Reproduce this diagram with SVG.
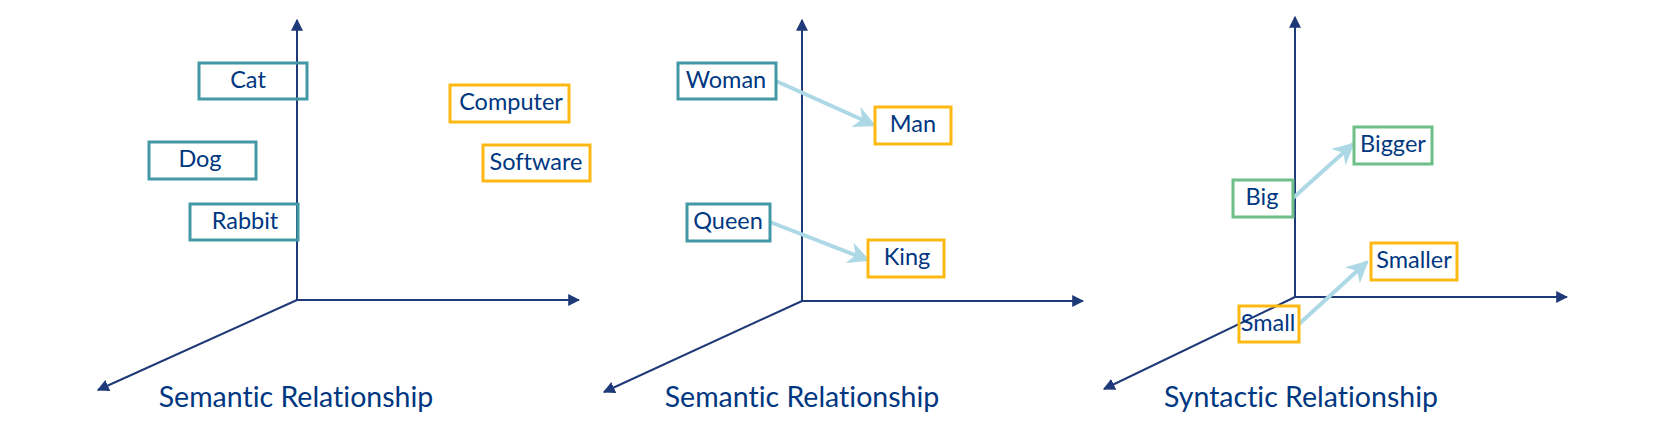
<svg xmlns="http://www.w3.org/2000/svg" width="1680" height="433" viewBox="0 0 1680 433">
<defs>
<marker id="axisHead" viewBox="0 0 10 10" refX="9" refY="5" markerWidth="6" markerHeight="6" markerUnits="strokeWidth" orient="auto">
<path d="M0,0 L10,5 L0,10 Z" fill="#1f3a78"/>
</marker>
<marker id="relHead" viewBox="0 0 10 10" refX="9" refY="5" markerWidth="5.5" markerHeight="5.5" markerUnits="strokeWidth" orient="auto">
<path d="M0,0 L10,5 L0,10 L3,5 Z" fill="#add8e6"/>
</marker>
<style>
.axis{stroke:#1f3a78;stroke-width:2;fill:none;marker-end:url(#axisHead)}
.rel{stroke:#add8e6;stroke-width:4;fill:none;marker-end:url(#relHead)}
.box{fill:none;stroke-width:3}
.teal{stroke:#4298a4}
.yellow{stroke:#fdb913}
.green{stroke:#6dbf87}
.lbl{font-family:Lato,"Open Sans","Liberation Sans",sans-serif;font-size:23.5px;fill:#003781;text-anchor:middle;font-variant-ligatures:none}
.title{font-family:Lato,"Open Sans","Liberation Sans",sans-serif;font-size:28.5px;fill:#003781;text-anchor:middle;font-variant-ligatures:none}
</style>
</defs>
<rect width="1680" height="433" fill="#ffffff"/>
<g id="connectors">
<line class="axis" x1="297" y1="300" x2="297" y2="20"/>
<line class="axis" x1="297" y1="300" x2="579" y2="300"/>
<line class="axis" x1="297" y1="300" x2="98" y2="390"/>
<line class="axis" x1="802" y1="301" x2="802" y2="20"/>
<line class="axis" x1="802" y1="301" x2="1083" y2="301"/>
<line class="axis" x1="802" y1="301" x2="604" y2="392"/>
<line class="axis" x1="1295" y1="297" x2="1295" y2="17"/>
<line class="axis" x1="1295" y1="297" x2="1567" y2="297"/>
<line class="axis" x1="1295" y1="297" x2="1104" y2="389"/>
<line class="rel" x1="776" y1="81" x2="874" y2="125"/>
<line class="rel" x1="770" y1="222" x2="868" y2="260"/>
<line class="rel" x1="1293" y1="198" x2="1353" y2="144"/>
<line class="rel" x1="1299" y1="324" x2="1367" y2="262"/>
</g>
<g id="node-cat"><rect class="box teal" x="199" y="63" width="108" height="36"/><text class="lbl" x="248" y="88">Cat</text></g>
<g id="node-dog"><rect class="box teal" x="149" y="142" width="107" height="37"/><text class="lbl" x="200" y="167">Dog</text></g>
<g id="node-rabbit"><rect class="box teal" x="190" y="204" width="108" height="36"/><text class="lbl" x="245" y="229">Rabbit</text></g>
<g id="node-computer"><rect class="box yellow" x="450" y="85" width="119" height="37"/><text class="lbl" x="511" y="110">Computer</text></g>
<g id="node-software"><rect class="box yellow" x="483" y="145" width="107" height="36"/><text class="lbl" x="536" y="170">Software</text></g>
<g id="title-1"><text class="title" x="296" y="407">Semantic Relationship</text></g>
<g id="node-woman"><rect class="box teal" x="678" y="63" width="98" height="36"/><text class="lbl" x="726" y="88">Woman</text></g>
<g id="node-man"><rect class="box yellow" x="875" y="107" width="76" height="37"/><text class="lbl" x="913" y="132">Man</text></g>
<g id="node-queen"><rect class="box teal" x="687" y="204" width="83" height="37"/><text class="lbl" x="728" y="229">Queen</text></g>
<g id="node-king"><rect class="box yellow" x="868" y="240" width="76" height="37"/><text class="lbl" x="907" y="265">King</text></g>
<g id="title-2"><text class="title" x="802" y="407">Semantic Relationship</text></g>
<g id="node-big"><rect class="box green" x="1233" y="180" width="60" height="37"/><text class="lbl" x="1262" y="205">Big</text></g>
<g id="node-bigger"><rect class="box green" x="1354" y="127" width="78" height="37"/><text class="lbl" x="1393" y="152">Bigger</text></g>
<g id="node-smaller"><rect class="box yellow" x="1371" y="243" width="86" height="37"/><text class="lbl" x="1414" y="268">Smaller</text></g>
<g id="node-small"><rect class="box yellow" x="1239" y="306" width="60" height="36"/><text class="lbl" x="1268" y="331">Small</text></g>
<g id="title-3"><text class="title" x="1301" y="407">Syntactic Relationship</text></g>
</svg>
